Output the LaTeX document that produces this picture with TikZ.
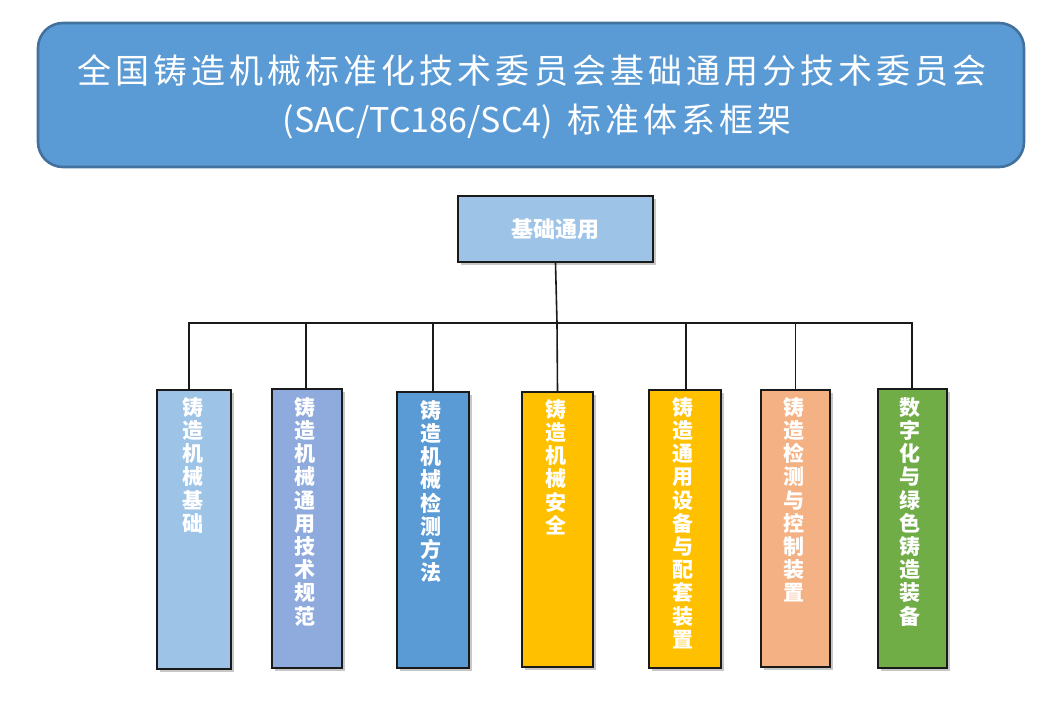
\documentclass[tikz,border=0pt]{standalone}
\usepackage{fontspec}
\newfontfamily\cjk{Noto Sans CJK SC}
\newfontfamily\cjkspaced{Noto Sans CJK SC}[LetterSpace=12]
\usetikzlibrary{shadows}
\definecolor{titlefill}{HTML}{5B9BD5}
\definecolor{titledraw}{HTML}{41719C}
\definecolor{cA}{HTML}{9DC3E6}
\definecolor{cB}{HTML}{8FAADC}
\definecolor{cC}{HTML}{5B9BD5}
\definecolor{cD}{HTML}{FFC000}
\definecolor{cE}{HTML}{F4B183}
\definecolor{cF}{HTML}{70AD47}
\definecolor{linec}{HTML}{1A1A1A}
\tikzset{
  titlebox/.style={draw=titledraw, line width=2.6pt, fill=titlefill, rounded corners=25pt,
    inner sep=0pt},
  titleline/.style={inner sep=0pt, text=white, font=\fontsize{34}{40}\selectfont},
  catbox/.style={draw=linec, line width=1.8pt, inner sep=0pt,
    drop shadow={shadow xshift=2.5pt, shadow yshift=-2.5pt, opacity=0.22, fill=black}},
  vlabel/.style={anchor=north, inner sep=0pt, text=white, align=center,
    font=\cjk\bfseries\fontsize{21}{23.2}\selectfont},
  conn/.style={draw=linec, line width=1.6pt}
}
\begin{document}
\begin{tikzpicture}[x=1pt,y=-1pt]
\useasboundingbox (0,0) rectangle (1052,701);
% title
\node[titlebox, minimum width=986pt, minimum height=144pt] (title) at (531,95) {};
\node[titleline] (title1) at (532,70) {\cjkspaced 全国铸造机械标准化技术委员会基础通用分技术委员会};
\node[titleline] (title2) at (537,122) {\cjk (SAC/TC186/SC4)\hspace{14pt}\cjkspaced 标准体系框架};
% top box
\node[catbox, fill=cA, minimum width=195pt, minimum height=66pt, text=white,
  font=\cjk\bfseries\fontsize{22}{24}\selectfont] (b0) at (555.5,229) {基础通用};
% category boxes
\node[catbox, fill=cA, minimum width=74pt, minimum height=279pt] (b1) at (194,529.5) {};
\node[catbox, fill=cB, minimum width=70pt, minimum height=279pt] (b2) at (307,528.5) {};
\node[catbox, fill=cC, minimum width=72pt, minimum height=276pt] (b3) at (433,530) {};
\node[catbox, fill=cD, minimum width=71pt, minimum height=275pt] (b4) at (557.5,529.5) {};
\node[catbox, fill=cD, minimum width=72pt, minimum height=278pt] (b5) at (685,529) {};
\node[catbox, fill=cE, minimum width=69pt, minimum height=277pt] (b6) at (795.5,528.5) {};
\node[catbox, fill=cF, minimum width=69pt, minimum height=279pt] (b7) at (912.5,528.5) {};
% labels
\node[vlabel] (t1) at ([xshift=-1.5pt,yshift=-8pt]b1.north) {铸\\造\\机\\械\\基\\础};
\node[vlabel] (t2) at ([xshift=-2pt,yshift=-9pt]b2.north) {铸\\造\\机\\械\\通\\用\\技\\术\\规\\范};
\node[vlabel] (t3) at ([xshift=-2pt,yshift=-9pt]b3.north) {铸\\造\\机\\械\\检\\测\\方\\法};
\node[vlabel] (t4) at ([xshift=-1.5pt,yshift=-8pt]b4.north) {铸\\造\\机\\械\\安\\全};
\node[vlabel] (t5) at ([xshift=-2pt,yshift=-8pt]b5.north) {铸\\造\\通\\用\\设\\备\\与\\配\\套\\装\\置};
\node[vlabel] (t6) at ([xshift=-2pt,yshift=-8pt]b6.north) {铸\\造\\检\\测\\与\\控\\制\\装\\置};
\node[vlabel] (t7) at ([xshift=-3pt,yshift=-9pt]b7.north) {数\\字\\化\\与\\绿\\色\\铸\\造\\装\\备};
% connectors
\coordinate (bus) at (557,323);
\draw[conn] (b0.south) -- (bus);
\draw[conn] (bus) -| ([xshift=-5pt]b1.north);
\draw[conn] (bus) -| ([xshift=-1pt]b2.north);
\draw[conn] (bus) -| (b3.north);
\draw[conn] (bus) -- (b4.north);
\draw[conn] (bus) -| ([xshift=1pt]b5.north);
\draw[conn] (bus) -| (b6.north);
\draw[conn] (bus) -| ([xshift=-0.5pt]b7.north);
\end{tikzpicture}
\end{document}
